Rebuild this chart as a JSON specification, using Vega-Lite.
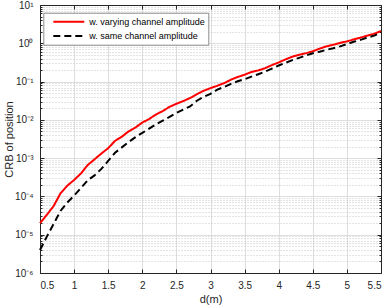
{
  "$schema": "https://vega.github.io/schema/vega-lite/v6.json",
  "width": 341,
  "height": 268,
  "autosize": {"type": "none"},
  "padding": {"left": 40, "top": 5, "right": 7, "bottom": 35},
  "background": "white",
  "config": {
    "font": "Liberation Sans",
    "view": {"stroke": null},
    "axis": {
      "domainColor": "#262626",
      "domainWidth": 1,
      "tickColor": "#262626",
      "labelColor": "#262626",
      "labelFont": "Liberation Sans",
      "labelFontSize": 10,
      "titleFont": "Liberation Sans",
      "titleFontSize": 11,
      "titleFontWeight": "normal",
      "titleColor": "#262626",
      "gridColor": "#dedede",
      "gridWidth": 1
    }
  },
  "data": {
    "values": [
      {"d": 0.5, "crb": 2.00e-5, "s": "w. varying channel amplitude"},
      {"d": 0.6, "crb": 3.31e-5, "s": "w. varying channel amplitude"},
      {"d": 0.7, "crb": 5.62e-5, "s": "w. varying channel amplitude"},
      {"d": 0.8, "crb": 1.20e-4, "s": "w. varying channel amplitude"},
      {"d": 0.9, "crb": 1.91e-4, "s": "w. varying channel amplitude"},
      {"d": 1.0, "crb": 2.69e-4, "s": "w. varying channel amplitude"},
      {"d": 1.1, "crb": 3.98e-4, "s": "w. varying channel amplitude"},
      {"d": 1.2, "crb": 6.61e-4, "s": "w. varying channel amplitude"},
      {"d": 1.3, "crb": 9.33e-4, "s": "w. varying channel amplitude"},
      {"d": 1.4, "crb": 1.32e-3, "s": "w. varying channel amplitude"},
      {"d": 1.5, "crb": 1.82e-3, "s": "w. varying channel amplitude"},
      {"d": 1.6, "crb": 2.82e-3, "s": "w. varying channel amplitude"},
      {"d": 1.7, "crb": 3.63e-3, "s": "w. varying channel amplitude"},
      {"d": 1.8, "crb": 5.01e-3, "s": "w. varying channel amplitude"},
      {"d": 1.9, "crb": 6.31e-3, "s": "w. varying channel amplitude"},
      {"d": 2.0, "crb": 8.51e-3, "s": "w. varying channel amplitude"},
      {"d": 2.1, "crb": 1.05e-2, "s": "w. varying channel amplitude"},
      {"d": 2.2, "crb": 1.38e-2, "s": "w. varying channel amplitude"},
      {"d": 2.3, "crb": 1.70e-2, "s": "w. varying channel amplitude"},
      {"d": 2.4, "crb": 2.19e-2, "s": "w. varying channel amplitude"},
      {"d": 2.5, "crb": 2.63e-2, "s": "w. varying channel amplitude"},
      {"d": 2.6, "crb": 3.09e-2, "s": "w. varying channel amplitude"},
      {"d": 2.7, "crb": 3.72e-2, "s": "w. varying channel amplitude"},
      {"d": 2.8, "crb": 4.68e-2, "s": "w. varying channel amplitude"},
      {"d": 2.9, "crb": 5.75e-2, "s": "w. varying channel amplitude"},
      {"d": 3.0, "crb": 6.76e-2, "s": "w. varying channel amplitude"},
      {"d": 3.1, "crb": 7.76e-2, "s": "w. varying channel amplitude"},
      {"d": 3.2, "crb": 9.12e-2, "s": "w. varying channel amplitude"},
      {"d": 3.3, "crb": 0.112, "s": "w. varying channel amplitude"},
      {"d": 3.4, "crb": 0.132, "s": "w. varying channel amplitude"},
      {"d": 3.5, "crb": 0.151, "s": "w. varying channel amplitude"},
      {"d": 3.6, "crb": 0.178, "s": "w. varying channel amplitude"},
      {"d": 3.7, "crb": 0.195, "s": "w. varying channel amplitude"},
      {"d": 3.8, "crb": 0.224, "s": "w. varying channel amplitude"},
      {"d": 3.9, "crb": 0.269, "s": "w. varying channel amplitude"},
      {"d": 4.0, "crb": 0.316, "s": "w. varying channel amplitude"},
      {"d": 4.1, "crb": 0.380, "s": "w. varying channel amplitude"},
      {"d": 4.2, "crb": 0.447, "s": "w. varying channel amplitude"},
      {"d": 4.3, "crb": 0.501, "s": "w. varying channel amplitude"},
      {"d": 4.4, "crb": 0.550, "s": "w. varying channel amplitude"},
      {"d": 4.5, "crb": 0.617, "s": "w. varying channel amplitude"},
      {"d": 4.6, "crb": 0.724, "s": "w. varying channel amplitude"},
      {"d": 4.7, "crb": 0.832, "s": "w. varying channel amplitude"},
      {"d": 4.8, "crb": 0.912, "s": "w. varying channel amplitude"},
      {"d": 4.9, "crb": 1.023, "s": "w. varying channel amplitude"},
      {"d": 5.0, "crb": 1.122, "s": "w. varying channel amplitude"},
      {"d": 5.1, "crb": 1.259, "s": "w. varying channel amplitude"},
      {"d": 5.2, "crb": 1.413, "s": "w. varying channel amplitude"},
      {"d": 5.3, "crb": 1.585, "s": "w. varying channel amplitude"},
      {"d": 5.4, "crb": 1.778, "s": "w. varying channel amplitude"},
      {"d": 5.5, "crb": 2.089, "s": "w. varying channel amplitude"},
      {"d": 0.5, "crb": 3.98e-6, "s": "w. same channel amplitude"},
      {"d": 0.6, "crb": 8.91e-6, "s": "w. same channel amplitude"},
      {"d": 0.7, "crb": 1.91e-5, "s": "w. same channel amplitude"},
      {"d": 0.8, "crb": 4.17e-5, "s": "w. same channel amplitude"},
      {"d": 0.9, "crb": 6.92e-5, "s": "w. same channel amplitude"},
      {"d": 1.0, "crb": 1.05e-4, "s": "w. same channel amplitude"},
      {"d": 1.1, "crb": 1.66e-4, "s": "w. same channel amplitude"},
      {"d": 1.2, "crb": 2.63e-4, "s": "w. same channel amplitude"},
      {"d": 1.3, "crb": 3.55e-4, "s": "w. same channel amplitude"},
      {"d": 1.4, "crb": 5.25e-4, "s": "w. same channel amplitude"},
      {"d": 1.5, "crb": 8.51e-4, "s": "w. same channel amplitude"},
      {"d": 1.6, "crb": 1.38e-3, "s": "w. same channel amplitude"},
      {"d": 1.7, "crb": 1.91e-3, "s": "w. same channel amplitude"},
      {"d": 1.8, "crb": 2.63e-3, "s": "w. same channel amplitude"},
      {"d": 1.9, "crb": 3.55e-3, "s": "w. same channel amplitude"},
      {"d": 2.0, "crb": 4.57e-3, "s": "w. same channel amplitude"},
      {"d": 2.1, "crb": 5.89e-3, "s": "w. same channel amplitude"},
      {"d": 2.2, "crb": 7.59e-3, "s": "w. same channel amplitude"},
      {"d": 2.3, "crb": 9.55e-3, "s": "w. same channel amplitude"},
      {"d": 2.4, "crb": 1.20e-2, "s": "w. same channel amplitude"},
      {"d": 2.5, "crb": 1.51e-2, "s": "w. same channel amplitude"},
      {"d": 2.6, "crb": 1.86e-2, "s": "w. same channel amplitude"},
      {"d": 2.7, "crb": 2.24e-2, "s": "w. same channel amplitude"},
      {"d": 2.8, "crb": 3.16e-2, "s": "w. same channel amplitude"},
      {"d": 2.9, "crb": 3.98e-2, "s": "w. same channel amplitude"},
      {"d": 3.0, "crb": 4.79e-2, "s": "w. same channel amplitude"},
      {"d": 3.1, "crb": 6.17e-2, "s": "w. same channel amplitude"},
      {"d": 3.2, "crb": 7.24e-2, "s": "w. same channel amplitude"},
      {"d": 3.3, "crb": 8.71e-2, "s": "w. same channel amplitude"},
      {"d": 3.4, "crb": 0.102, "s": "w. same channel amplitude"},
      {"d": 3.5, "crb": 0.115, "s": "w. same channel amplitude"},
      {"d": 3.6, "crb": 0.135, "s": "w. same channel amplitude"},
      {"d": 3.7, "crb": 0.155, "s": "w. same channel amplitude"},
      {"d": 3.8, "crb": 0.182, "s": "w. same channel amplitude"},
      {"d": 3.9, "crb": 0.219, "s": "w. same channel amplitude"},
      {"d": 4.0, "crb": 0.263, "s": "w. same channel amplitude"},
      {"d": 4.1, "crb": 0.309, "s": "w. same channel amplitude"},
      {"d": 4.2, "crb": 0.363, "s": "w. same channel amplitude"},
      {"d": 4.3, "crb": 0.417, "s": "w. same channel amplitude"},
      {"d": 4.4, "crb": 0.479, "s": "w. same channel amplitude"},
      {"d": 4.5, "crb": 0.550, "s": "w. same channel amplitude"},
      {"d": 4.6, "crb": 0.603, "s": "w. same channel amplitude"},
      {"d": 4.7, "crb": 0.676, "s": "w. same channel amplitude"},
      {"d": 4.8, "crb": 0.741, "s": "w. same channel amplitude"},
      {"d": 4.9, "crb": 0.832, "s": "w. same channel amplitude"},
      {"d": 5.0, "crb": 0.955, "s": "w. same channel amplitude"},
      {"d": 5.1, "crb": 1.096, "s": "w. same channel amplitude"},
      {"d": 5.2, "crb": 1.230, "s": "w. same channel amplitude"},
      {"d": 5.3, "crb": 1.413, "s": "w. same channel amplitude"},
      {"d": 5.4, "crb": 1.585, "s": "w. same channel amplitude"},
      {"d": 5.5, "crb": 1.905, "s": "w. same channel amplitude"}
    ]
  },
  "layer": [
    {
      "mark": {"type": "line", "strokeOpacity": 0},
      "encoding": {
        "x": {
          "field": "d", "type": "quantitative",
          "scale": {"domain": [0.5, 5.5], "nice": false, "zero": false},
          "axis": {"orient": "top", "values": [0.5, 1, 1.5, 2, 2.5, 3, 3.5, 4, 4.5, 5, 5.5], "labels": false, "grid": false, "tickSize": -4, "title": null}
        },
        "y": {
          "field": "crb", "type": "quantitative",
          "scale": {"type": "log", "domain": [1e-6, 10], "nice": false},
          "axis": {
            "orient": "right", "labels": false, "grid": false, "title": null,
            "values": [1e-6,2e-6,3e-6,4e-6,5e-6,6e-6,7e-6,8e-6,9e-6,1e-5,2e-5,3e-5,4e-5,5e-5,6e-5,7e-5,8e-5,9e-5,1e-4,2e-4,3e-4,4e-4,5e-4,6e-4,7e-4,8e-4,9e-4,1e-3,2e-3,3e-3,4e-3,5e-3,6e-3,7e-3,8e-3,9e-3,1e-2,2e-2,3e-2,4e-2,5e-2,6e-2,7e-2,8e-2,9e-2,0.1,0.2,0.3,0.4,0.5,0.6,0.7,0.8,0.9,1,2,3,4,5,6,7,8,9,10],
            "tickSize": {"condition": {"test": "abs(datum.value / pow(10, round(log(datum.value)/LN10)) - 1) < 0.01", "value": -4}, "value": -2}
          }
        },
        "detail": {"field": "s"}
      }
    },
    {
      "mark": {"type": "line", "strokeWidth": 2},
      "encoding": {
        "x": {
          "field": "d", "type": "quantitative",
          "scale": {"domain": [0.5, 5.5], "nice": false, "zero": false},
          "axis": {"orient": "bottom", "values": [0.5, 1, 1.5, 2, 2.5, 3, 3.5, 4, 4.5, 5, 5.5], "format": "~g", "grid": true, "tickSize": -4, "labelPadding": 11, "title": "d(m)", "titlePadding": 3}
        },
        "y": {
          "field": "crb", "type": "quantitative",
          "scale": {"type": "log", "domain": [1e-6, 10], "nice": false},
          "axis": {
            "orient": "left", "grid": true, "title": "CRB of position", "titlePadding": 0,
            "values": [1e-6,2e-6,3e-6,4e-6,5e-6,6e-6,7e-6,8e-6,9e-6,1e-5,2e-5,3e-5,4e-5,5e-5,6e-5,7e-5,8e-5,9e-5,1e-4,2e-4,3e-4,4e-4,5e-4,6e-4,7e-4,8e-4,9e-4,1e-3,2e-3,3e-3,4e-3,5e-3,6e-3,7e-3,8e-3,9e-3,1e-2,2e-2,3e-2,4e-2,5e-2,6e-2,7e-2,8e-2,9e-2,0.1,0.2,0.3,0.4,0.5,0.6,0.7,0.8,0.9,1,2,3,4,5,6,7,8,9,10],
            "labelExpr": "abs(datum.value / pow(10, round(log(datum.value)/LN10)) - 1) > 0.01 ? '' : '10' + ['⁻⁶','⁻⁵','⁻⁴','⁻³','⁻²','⁻¹','⁰','¹'][round(log(datum.value)/LN10) + 6]",
            "labelPadding": 11,
            "tickSize": {"condition": {"test": "abs(datum.value / pow(10, round(log(datum.value)/LN10)) - 1) < 0.01", "value": -4}, "value": -2},
            "gridDash": {"condition": {"test": "abs(datum.value / pow(10, round(log(datum.value)/LN10)) - 1) < 0.01", "value": []}, "value": [1, 2]},
            "gridColor": {"condition": {"test": "abs(datum.value / pow(10, round(log(datum.value)/LN10)) - 1) < 0.01", "value": "#dedede"}, "value": "#c8c8c8"}
          }
        },
        "color": {
          "field": "s", "type": "nominal",
          "scale": {"domain": ["w. varying channel amplitude", "w. same channel amplitude"], "range": ["#ff0000", "#000000"]},
          "legend": {
            "title": null, "orient": "none", "legendX": 3.3, "legendY": 7.7,
            "symbolType": "M0.2,0H6.4", "symbolStrokeWidth": 2, "symbolSize": 100,
            "labelFont": "Liberation Sans", "labelFontSize": 9, "labelColor": "#000000",
            "fillColor": "white", "strokeColor": "#8c8c8c", "padding": 3, "rowPadding": 3.3, "labelOffset": 31
          }
        },
        "strokeDash": {
          "field": "s", "type": "nominal",
          "scale": {"domain": ["w. varying channel amplitude", "w. same channel amplitude"], "range": [[1, 0], [7, 4]]},
          "legend": {
            "title": null, "orient": "none", "legendX": 3.3, "legendY": 7.7,
            "symbolType": "M0.2,0H6.4", "symbolStrokeWidth": 2, "symbolSize": 100,
            "labelFont": "Liberation Sans", "labelFontSize": 9, "labelColor": "#000000",
            "fillColor": "white", "strokeColor": "#8c8c8c", "padding": 3, "rowPadding": 3.3, "labelOffset": 31
          }
        }
      }
    }
  ],
  "resolve": {"axis": {"x": "independent", "y": "independent"}}
}
